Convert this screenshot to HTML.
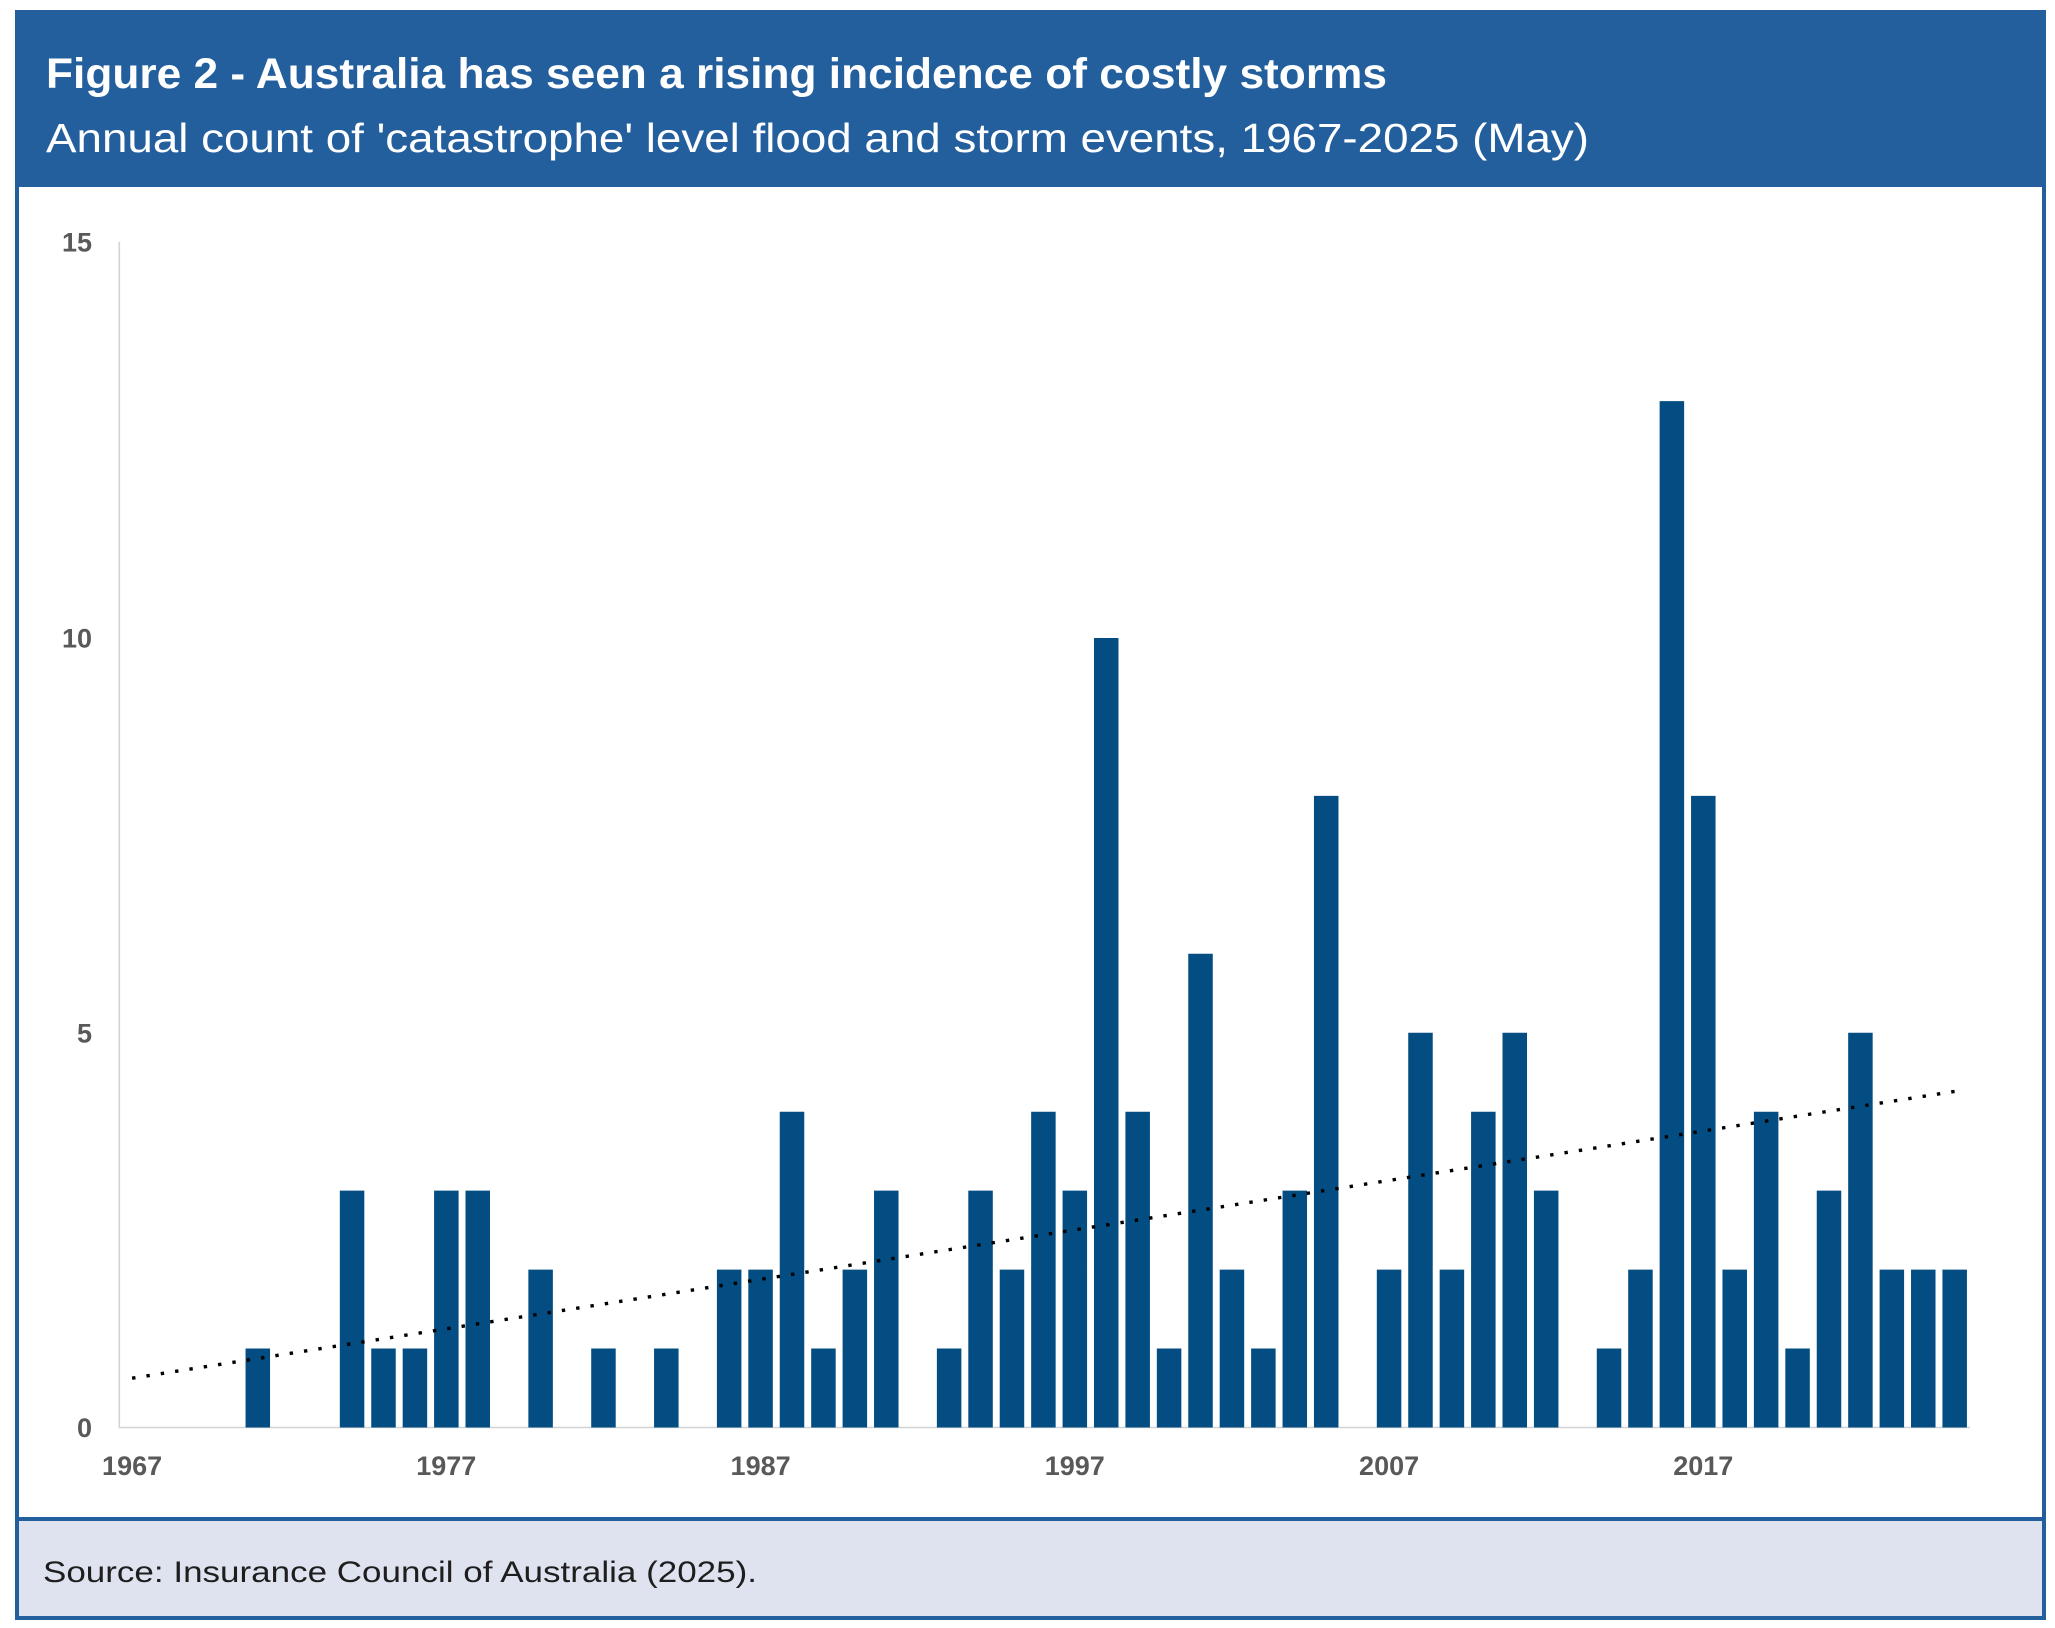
<!DOCTYPE html>
<html>
<head>
<meta charset="utf-8">
<style>
html,body{margin:0;padding:0;background:#ffffff;}
svg{display:block;}
</style>
</head>
<body>
<svg width="2055" height="1628" viewBox="0 0 2055 1628" xmlns="http://www.w3.org/2000/svg">
<rect x="0" y="0" width="2055" height="1628" fill="#ffffff"/>
<rect x="15" y="10" width="2031" height="177" fill="#235f9d"/>
<text x="46" y="88" font-family="Liberation Sans, sans-serif" font-weight="bold" font-size="43" fill="#ffffff" textLength="1341" lengthAdjust="spacingAndGlyphs">Figure 2 - Australia has seen a rising incidence of costly storms</text>
<text x="46" y="152" font-family="Liberation Sans, sans-serif" font-size="41" fill="#ffffff" textLength="1543" lengthAdjust="spacingAndGlyphs">Annual count of 'catastrophe' level flood and storm events, 1967-2025 (May)</text>
<rect x="17" y="1519" width="2027" height="99" fill="#dfe3ef"/>
<text x="43" y="1582" font-family="Liberation Sans, sans-serif" font-size="30" fill="#1e1e1e" textLength="714" lengthAdjust="spacingAndGlyphs">Source: Insurance Council of Australia (2025).</text>
<path d="M17 187V1620M2044 187V1620M15 1519H2046M15 1618H2046" stroke="#235f9d" stroke-width="4" fill="none"/>
<path d="M119.3 241.7V1427.5H1970" stroke="#d3d3d3" stroke-width="1.6" fill="none"/>
<g font-family="Liberation Sans, sans-serif" font-weight="bold" font-size="27" fill="#595959" text-anchor="end">
<text x="92" y="251.7">15</text>
<text x="92" y="647.5">10</text>
<text x="92" y="1042.3">5</text>
<text x="92" y="1437.2">0</text>
</g>
<g font-family="Liberation Sans, sans-serif" font-weight="bold" font-size="27" fill="#595959" text-anchor="middle">
<text x="132.1" y="1475">1967</text>
<text x="446.3" y="1475">1977</text>
<text x="760.6" y="1475">1987</text>
<text x="1074.8" y="1475">1997</text>
<text x="1389.1" y="1475">2007</text>
<text x="1703.3" y="1475">2017</text>
</g>
<path fill="#034d82" d="M245.55 1348.55h24.5V1427.5h-24.5z M339.82 1190.65h24.5V1427.5h-24.5z M371.24 1348.55h24.5V1427.5h-24.5z M402.67 1348.55h24.5V1427.5h-24.5z M434.09 1190.65h24.5V1427.5h-24.5z M465.51 1190.65h24.5V1427.5h-24.5z M528.36 1269.6h24.5V1427.5h-24.5z M591.21 1348.55h24.5V1427.5h-24.5z M654.06 1348.55h24.5V1427.5h-24.5z M716.91 1269.6h24.5V1427.5h-24.5z M748.33 1269.6h24.5V1427.5h-24.5z M779.75 1111.7h24.5V1427.5h-24.5z M811.18 1348.55h24.5V1427.5h-24.5z M842.6 1269.6h24.5V1427.5h-24.5z M874.03 1190.65h24.5V1427.5h-24.5z M936.87 1348.55h24.5V1427.5h-24.5z M968.3 1190.65h24.5V1427.5h-24.5z M999.72 1269.6h24.5V1427.5h-24.5z M1031.15 1111.7h24.5V1427.5h-24.5z M1062.57 1190.65h24.5V1427.5h-24.5z M1093.99 638h24.5V1427.5h-24.5z M1125.42 1111.7h24.5V1427.5h-24.5z M1156.84 1348.55h24.5V1427.5h-24.5z M1188.27 953.8h24.5V1427.5h-24.5z M1219.69 1269.6h24.5V1427.5h-24.5z M1251.11 1348.55h24.5V1427.5h-24.5z M1282.54 1190.65h24.5V1427.5h-24.5z M1313.96 795.9h24.5V1427.5h-24.5z M1376.81 1269.6h24.5V1427.5h-24.5z M1408.23 1032.75h24.5V1427.5h-24.5z M1439.66 1269.6h24.5V1427.5h-24.5z M1471.08 1111.7h24.5V1427.5h-24.5z M1502.51 1032.75h24.5V1427.5h-24.5z M1533.93 1190.65h24.5V1427.5h-24.5z M1596.78 1348.55h24.5V1427.5h-24.5z M1628.2 1269.6h24.5V1427.5h-24.5z M1659.63 401.15h24.5V1427.5h-24.5z M1691.05 795.9h24.5V1427.5h-24.5z M1722.47 1269.6h24.5V1427.5h-24.5z M1753.9 1111.7h24.5V1427.5h-24.5z M1785.32 1348.55h24.5V1427.5h-24.5z M1816.75 1190.65h24.5V1427.5h-24.5z M1848.17 1032.75h24.5V1427.5h-24.5z M1879.59 1269.6h24.5V1427.5h-24.5z M1911.02 1269.6h24.5V1427.5h-24.5z M1942.44 1269.6h24.5V1427.5h-24.5z"/>
<line x1="132.1" y1="1378.24" x2="1954.7" y2="1091.41" stroke="#000000" stroke-width="3.4" stroke-dasharray="3.4 11.1"/>
</svg>
</body>
</html>
